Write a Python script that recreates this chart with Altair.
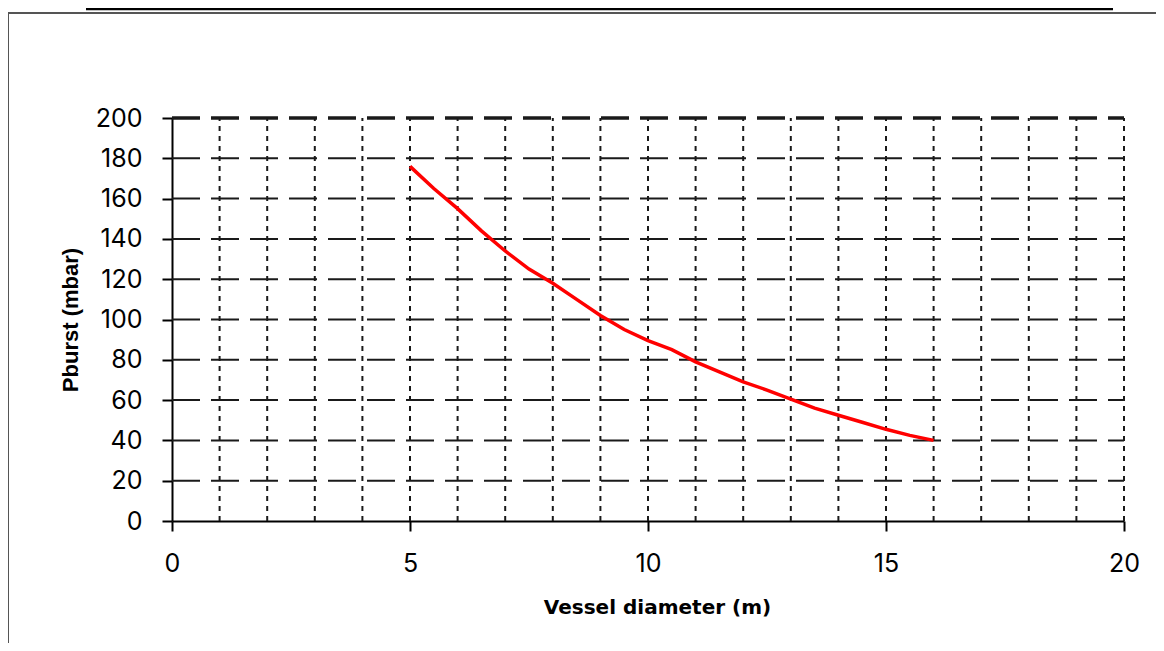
import altair as alt
import pandas as pd

# ---- data ----
diameter = [5, 5.5, 6, 6.5, 7, 7.5, 8, 8.5, 9, 9.5, 10, 10.5, 11, 11.5, 12,
            12.5, 13, 13.5, 14, 14.5, 15, 15.5, 16]
pburst = [176, 165, 155, 144, 134, 125, 118, 110, 102, 95, 89.5, 85, 79, 74,
          69, 65, 60.5, 56, 52.5, 49, 45.5, 42.5, 40]
x_tick_values = [0, 5, 10, 15, 20]
y_tick_values = [0, 20, 40, 60, 80, 100, 120, 140, 160, 180, 200]
x_grid_values = list(range(1, 21))
y_grid_values = [20, 40, 60, 80, 100, 120, 140, 160, 180, 200]

curve_df = pd.DataFrame({"d": diameter, "p": pburst})
vgrid_df = pd.DataFrame({"d": x_grid_values, "p0": [0] * len(x_grid_values),
                         "p1": [200] * len(x_grid_values)})
hgrid_df = pd.DataFrame({"p": y_grid_values, "d0": [0] * len(y_grid_values),
                         "d1": [20] * len(y_grid_values)})

xscale = alt.Scale(domain=[0, 20], nice=False, zero=False)
yscale = alt.Scale(domain=[0, 200], nice=False)

xaxis = alt.Axis(
    values=x_tick_values, title="Vessel diameter (m)", grid=False,
    labelFont="Inter", labelFontSize=25, labelColor="black", labelPadding=20,
    labelFlush=False, labelOverlap=False,
    tickColor="black", tickWidth=2, tickSize=10,
    domainColor="black", domainWidth=2,
    titleFont="DejaVu Sans", titleFontSize=20, titleFontWeight="bold",
    titleColor="black", titleX=485, titleY=92, titleBaseline="alphabetic",
)
yaxis = alt.Axis(
    values=y_tick_values, title="Pburst (mbar)", grid=False,
    labelFont="Inter", labelFontSize=25, labelColor="black", labelPadding=20,
    labelOverlap=False, labelFlush=False,
    tickColor="black", tickWidth=2, tickSize=10,
    domainColor="black", domainWidth=2,
    titleFont="Liberation Sans", titleFontSize=22, titleFontWeight="bold",
    titleColor="black", titleX=-95, titleBaseline="alphabetic",
)

vgrid = alt.Chart(vgrid_df).mark_rule(
    color="#1a1a1a", strokeWidth=2, strokeDash=[5, 5]
).encode(
    x=alt.X("d:Q", scale=xscale, axis=xaxis),
    y=alt.Y("p0:Q", scale=yscale, axis=yaxis),
    y2="p1:Q",
)

hgrid = alt.Chart(hgrid_df).mark_rule(
    color="#1a1a1a", strokeDash=[28, 11]
).encode(
    y=alt.Y("p:Q", scale=yscale, axis=yaxis),
    x=alt.X("d0:Q", scale=xscale, axis=xaxis),
    x2="d1:Q",
    strokeWidth=alt.condition(alt.datum.p == 200, alt.value(3.5), alt.value(2)),
)

curve = alt.Chart(curve_df).mark_line(color="#ff0000", strokeWidth=3.5).encode(
    x=alt.X("d:Q", scale=xscale, axis=xaxis),
    y=alt.Y("p:Q", scale=yscale, axis=yaxis),
)

one = alt.Data(values=[{}])
frame_top = alt.Chart(one).mark_rule(color="#555555", strokeWidth=2).encode(
    x=alt.value(-164), x2=alt.value(1000), y=alt.value(-105)
)
frame_left = alt.Chart(one).mark_rule(color="#555555", strokeWidth=2).encode(
    x=alt.value(-164), y=alt.value(-105), y2=alt.value(540)
)
top_bar = alt.Chart(one).mark_rule(color="black", strokeWidth=2.5).encode(
    x=alt.value(-86), x2=alt.value(941), y=alt.value(-109)
)

chart = alt.layer(vgrid, hgrid, curve, frame_top, frame_left, top_bar).properties(
    width=952, height=403,
    padding={"left": 164, "top": 110, "right": 32, "bottom": 122},
    autosize="none",
    background="white",
).configure_view(stroke=None)

chart.save("out.html", embed_options={"renderer": "svg", "actions": False})
